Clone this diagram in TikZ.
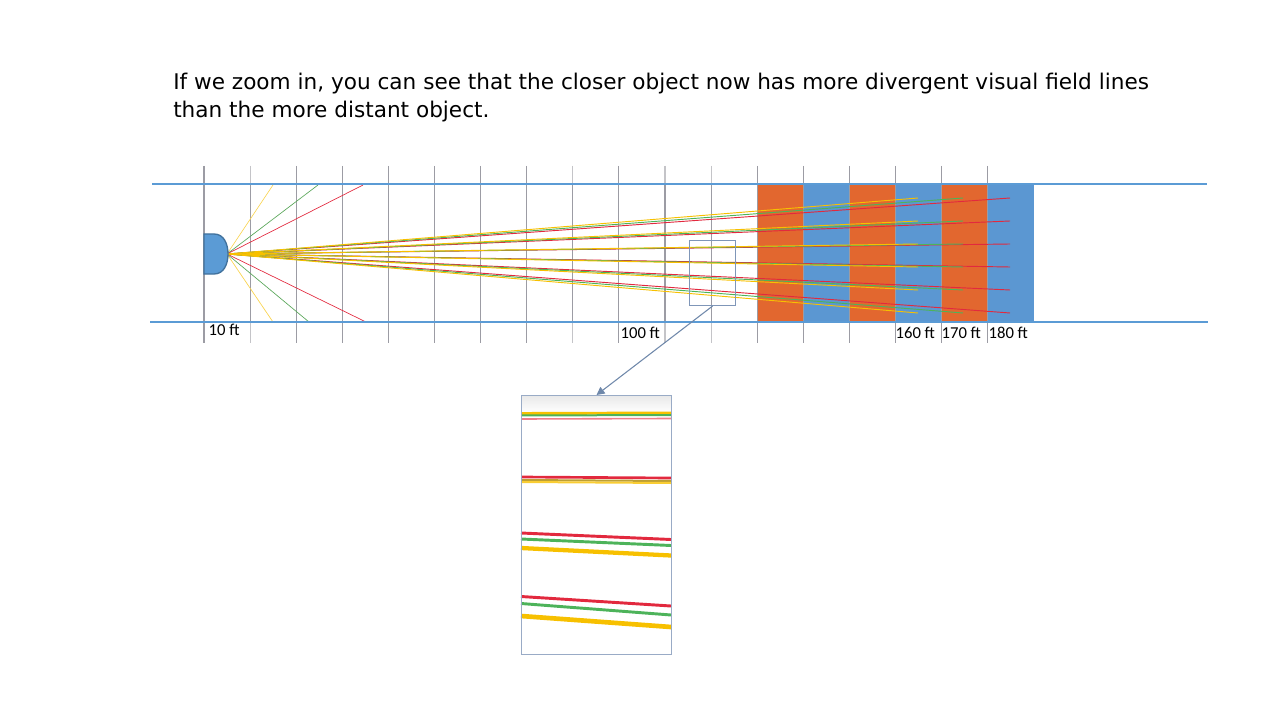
\documentclass[tikz,border=0pt]{standalone}
\usepackage{fontspec}
\setmainfont{DejaVu Sans}
\newfontfamily\labelfont{Carlito}
\usetikzlibrary{arrows.meta}
\definecolor{lineblue}{HTML}{5B9BD5}
\definecolor{eyeedge}{HTML}{41719C}
\definecolor{objorange}{HTML}{E2672F}
\definecolor{objblue}{HTML}{5B97D2}
\definecolor{gridgray}{HTML}{9C9CA4}
\definecolor{raygreen}{HTML}{4DB35A}
\definecolor{rayred}{HTML}{E2293E}
\definecolor{rayyellow}{HTML}{F7C000}
\definecolor{framegray}{HTML}{7F96B8}
\definecolor{arrowgray}{HTML}{6F88AA}
\tikzset{
  gridline/.style={gridgray, line width=0.8pt},
  rail/.style={lineblue, line width=2pt},
  ftlabel/.style={font=\labelfont\fontsize{12.5}{12.5}\selectfont, anchor=west, inner sep=1pt},
  zoomframe/.style={draw=framegray, line width=0.8pt, inner sep=0pt, anchor=north west}
}
\begin{document}
\begin{tikzpicture}[x=0.75pt,y=-0.75pt]
    \useasboundingbox (0,0) rectangle (1280,720);
    \node[anchor=base west, align=left, inner sep=0pt, font=\fontsize{16.2}{21}\selectfont] (title) at (173,118)
        {If we zoom in, you can see that the closer object now has more divergent visual field lines\\than the more distant object.};
    % objects
    \foreach \i/\col in {12/objorange,13/objblue,14/objorange,15/objblue,16/objorange,17/objblue}
        \fill[\col] (204+46.1*\i,185) rectangle ++(46.1,137);
    \foreach \i in {0,...,17} \draw[gridline] (204+46.1*\i,166) -- (204+46.1*\i,343);
    \foreach \i in {1,8,10,11} \draw[white!40!gridgray, line width=0.8pt] (204+46.1*\i,166) -- (204+46.1*\i,185) (204+46.1*\i,322) -- (204+46.1*\i,343);
    % eye and field lines
    \coordinate (eye) at (227,254);
    \draw[white!30!rayyellow, line width=0.5pt] (eye) -- (273,185) (eye) -- (273,322);
    \draw[gray!70!green, line width=0.5pt] (eye) -- (318,185) (eye) -- (309,322);
    \draw[rayred, line width=0.5pt] (eye) -- (363,185) (eye) -- (366,322);
    \foreach \xe/\col in {1010/rayred,963/raygreen,918/rayyellow}
        \foreach \k in {0,...,5} \draw[\col, line width=0.7pt] (eye) -- (\xe,198+23*\k);
    \filldraw[fill=lineblue, draw=eyeedge, line width=1pt] (204,234) -- (214,234) .. controls (224,234) and (228,244) .. (228,254)
        .. controls (228,264) and (224,274) .. (214,274) -- (204,274) -- cycle;
    \draw[rail] (152,184) -- (1207,184);
    \draw[rail] (150,322) -- (1208,322);
    \node[ftlabel] (ft10) at (207,330) {10 ft};
    \node[ftlabel] (ft100) at (619,333) {100 ft};
    \node[ftlabel] (ft160) at (894,333) {160 ft};
    \node[ftlabel] (ft170) at (940,333) {170 ft};
    \node[ftlabel] (ft180) at (987,333) {180 ft};
    % zoomed window
    \node[zoomframe, minimum width=34.5pt, minimum height=48.75pt] (zoombox) at (689,240) {};
    \shade[top color=gray!18, bottom color=white] (521,395) rectangle (671,413);
    \draw[rayyellow, line width=2.2pt] (521,413.5) -- (671,413);
    \draw[raygreen, line width=1.5pt] (521,415.5) -- (671,415);
    \draw[rayred!60, line width=1.2pt] (521,419) -- (671,418.5);
    \draw[rayred, line width=2pt] (521,477) -- (671,478);
    \draw[rayyellow!70!black!80, line width=1.5pt] (521,480) -- (671,481);
    \draw[rayyellow!80, line width=1.5pt] (521,482) -- (671,483);
    \draw[rayred, line width=2.2pt] (521,533) -- (671,539.5);
    \draw[raygreen, line width=2.2pt] (521,539) -- (671,545.5);
    \draw[rayyellow, line width=3.2pt] (521,548) -- (671,555.5);
    \draw[rayred, line width=2.2pt] (521,596.5) -- (671,606);
    \draw[raygreen, line width=2.2pt] (521,603.5) -- (671,615);
    \draw[rayyellow, line width=3.5pt] (521,616) -- (671,627);
    \node[zoomframe, draw=framegray!80, minimum width=112.5pt, minimum height=194.25pt] (inset) at (521,395) {};
    \draw[arrowgray, line width=0.8pt, -{Triangle[length=6pt,width=6pt]}] (zoombox.south) -- (inset.north);
\end{tikzpicture}
\end{document}
